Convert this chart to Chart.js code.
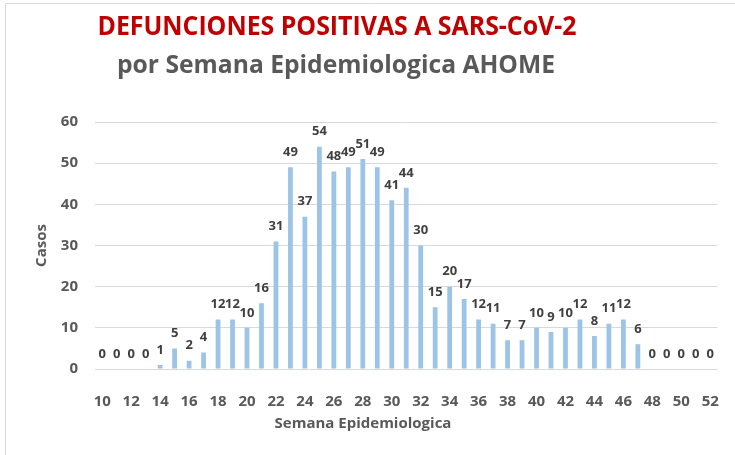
<!DOCTYPE html>
<html>
<head>
<meta charset="utf-8">
<script src="https://cdn.jsdelivr.net/npm/chart.js@4.4.1/dist/chart.umd.min.js"></script>
<style>
  html, body { margin: 0; padding: 0; background: #fff; }
  #wrap { width: 735px; height: 455px; position: relative; }
</style>
</head>
<body>
<div id="wrap"><canvas id="bars"></canvas></div>
<script>
// semanas epidemiologicas 10..52
const semanas = [];
for (let s = 10; s <= 52; s++) semanas.push(String(s));

const defunciones = [
    0, 0, 0, 0, 1, 5, 2, 4, 12, 12,
    10, 16, 31, 49, 37, 54, 48, 49, 51, 49,
    41, 44, 30, 15, 20, 17, 12, 11, 7, 7,
    10, 9, 10, 12, 8, 11, 12, 6, 0, 0,
    0, 0, 0
];

const yTicks = [0, 10, 20, 30, 40, 50, 60];

const titulo = "DEFUNCIONES POSITIVAS A SARS-CoV-2";
const subtitulo = "por Semana Epidemiologica AHOME";
const tituloX = "Semana Epidemiologica";
const tituloY = "Casos";

const FONT = "'Open Sans', sans-serif";

////////////////////////////////////////////////////////////////////////////////////

// marco, titulos y etiquetas de valor
const decor = {
    id: "decor",
    beforeDraw(chart) {
        const ctx = chart.ctx;
        ctx.save();
        ctx.fillStyle = "#fff";
        ctx.fillRect(0, 0, chart.width, chart.height);
        ctx.strokeStyle = "#d9d9d9";
        ctx.lineWidth = 1;
        ctx.beginPath();
        ctx.moveTo(5.5, chart.height);
        ctx.lineTo(5.5, 3.5);
        ctx.lineTo(chart.width, 3.5);
        ctx.stroke();
        ctx.restore();
    },
    afterDatasetsDraw(chart) {
        const ctx = chart.ctx;
        const area = chart.chartArea;
        ctx.save();
        ctx.textAlign = "center";
        ctx.textBaseline = "middle";

        ctx.fillStyle = "#c00000";
        ctx.font = "bold 26px " + FONT;
        ctx.fillText(titulo, 337, 28, 479);

        ctx.fillStyle = "#595959";
        ctx.font = "bold 25px " + FONT;
        ctx.fillText(subtitulo, 336, 66, 438);

        ctx.font = "bold 15px " + FONT;
        ctx.fillText(tituloX, 363, 424);

        ctx.translate(42, (area.top + area.bottom) / 2);
        ctx.rotate(-Math.PI / 2);
        ctx.fillText(tituloY, 0, 0);
        ctx.restore();

        ctx.save();
        ctx.fillStyle = "#404040";
        ctx.font = "bold 13px " + FONT;
        ctx.textAlign = "center";
        ctx.textBaseline = "middle";
        chart.getDatasetMeta(0).data.forEach((bar, i) => {
            ctx.fillText(String(defunciones[i]), bar.x, bar.y - 15);
        });
        ctx.restore();
    }
};

const bars = document.querySelector("#bars");
const myBarChart = new Chart(bars, {
    type: "bar",
    data: {
        labels: semanas,
        datasets: [
            {
                label: "Defunciones",
                data: defunciones,
                backgroundColor: "#9dc3e6",
                borderWidth: 0,
                categoryPercentage: 1,
                barPercentage: 0.33
            }
        ]
    },
    options: {
        animation: false,
        responsive: true,
        maintainAspectRatio: false,
        devicePixelRatio: 1,
        layout: { padding: { left: 0, right: 16, top: 122, bottom: 0 } },
        plugins: {
            legend: { display: false },
            tooltip: { enabled: false },
            title: { display: false }
        },
        scales: {
            x: {
                grid: { display: false },
                border: { display: false },
                ticks: {
                    autoSkip: false,
                    maxRotation: 0,
                    padding: 16,
                    color: "#595959",
                    font: { family: FONT, size: 15, weight: "bold" },
                    callback: (v, i) => (i % 2 === 0 ? semanas[i] : "")
                },
                afterFit(scale) { scale.height = 86; }
            },
            y: {
                min: 0,
                max: 60,
                afterBuildTicks(scale) {
                    scale.ticks = yTicks.map(v => ({ value: v }));
                },
                grid: { color: "#d9d9d9", lineWidth: 1, drawTicks: false },
                border: { display: false },
                ticks: {
                    padding: 17,
                    color: "#595959",
                    font: { family: FONT, size: 15, weight: "bold" }
                },
                afterFit(scale) { scale.width = 95; }
            }
        }
    },
    plugins: [decor]
});
</script>
</body>
</html>
